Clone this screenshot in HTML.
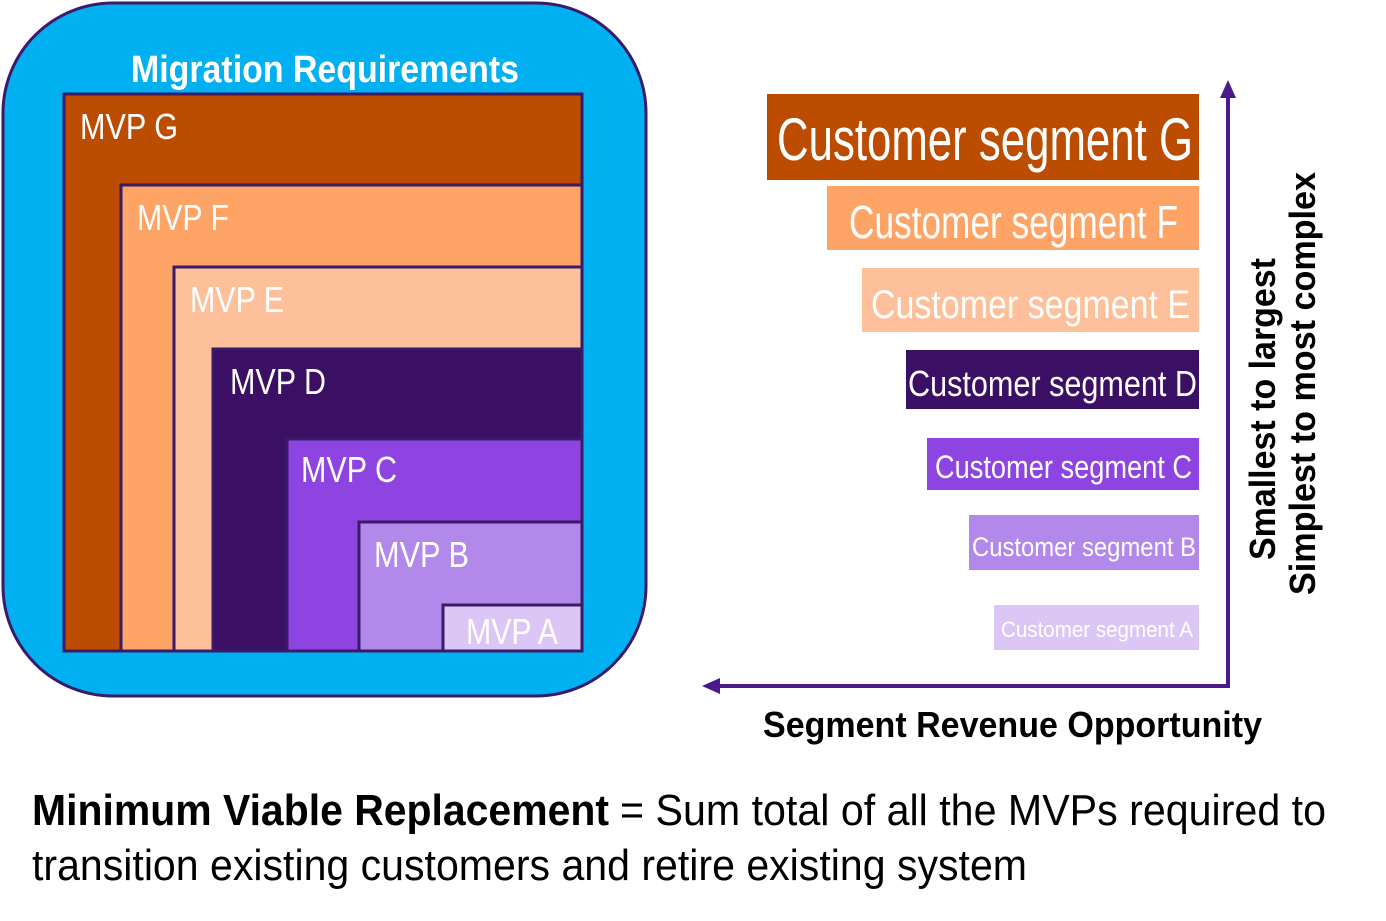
<!DOCTYPE html>
<html><head><meta charset="utf-8"><style>html,body{margin:0;padding:0;background:#fff}svg{display:block}</style></head>
<body>
<svg width="1386" height="921" viewBox="0 0 1386 921" xmlns="http://www.w3.org/2000/svg" font-family="Liberation Sans, Arial, sans-serif">
<rect x="3" y="3" width="643" height="693" rx="110" fill="#00b0f0" stroke="#3a1a6a" stroke-width="3"/>
<text x="131" y="82" font-size="38" font-weight="bold" fill="#fff" textLength="388" lengthAdjust="spacingAndGlyphs">Migration Requirements</text>
<g stroke="#3a1a6a" stroke-width="3">
<rect x="64" y="94" width="518" height="557" fill="#bc4c00"/>
<rect x="121" y="185" width="461" height="466" fill="#fda466"/>
<rect x="174" y="267" width="408" height="384" fill="#fdc09a"/>
<rect x="213" y="349" width="369" height="302" fill="#3b0f63"/>
<rect x="287" y="439" width="295" height="212" fill="#8e44e0"/>
<rect x="359" y="522" width="223" height="129" fill="#b388eb"/>
<rect x="443" y="605" width="139" height="46" fill="#dcc6f5"/>
</g>
<g fill="#fff" font-size="36">
<text x="80" y="139" textLength="98" lengthAdjust="spacingAndGlyphs">MVP G</text>
<text x="137" y="230" textLength="92" lengthAdjust="spacingAndGlyphs">MVP F</text>
<text x="190" y="312" textLength="94" lengthAdjust="spacingAndGlyphs">MVP E</text>
<text x="230" y="394" textLength="96" lengthAdjust="spacingAndGlyphs">MVP D</text>
<text x="301" y="482" textLength="96" lengthAdjust="spacingAndGlyphs">MVP C</text>
<text x="374" y="567" textLength="95" lengthAdjust="spacingAndGlyphs">MVP B</text>
<text x="466" y="644" textLength="92" lengthAdjust="spacingAndGlyphs">MVP A</text>
</g>
<rect x="767" y="94" width="432" height="86" fill="#bc4c00"/>
<rect x="827" y="186" width="372" height="64" fill="#fda466"/>
<rect x="862" y="268" width="337" height="64" fill="#fdc09a"/>
<rect x="906" y="350" width="293" height="59" fill="#3b0f63"/>
<rect x="927" y="438" width="272" height="52" fill="#8e44e0"/>
<rect x="969" y="515" width="230" height="55" fill="#b388eb"/>
<rect x="994" y="605" width="205" height="45" fill="#dcc6f5"/>
<g fill="#fff">
<text x="777" y="160" font-size="60" textLength="416" lengthAdjust="spacingAndGlyphs">Customer segment G</text>
<text x="849" y="238" font-size="46" textLength="329" lengthAdjust="spacingAndGlyphs">Customer segment F</text>
<text x="871" y="318" font-size="40" textLength="319" lengthAdjust="spacingAndGlyphs">Customer segment E</text>
<text x="908" y="396" font-size="36" textLength="289" lengthAdjust="spacingAndGlyphs">Customer segment D</text>
<text x="935" y="478" font-size="32" textLength="257" lengthAdjust="spacingAndGlyphs">Customer segment C</text>
<text x="972" y="556" font-size="27" textLength="224" lengthAdjust="spacingAndGlyphs">Customer segment B</text>
<text x="1001" y="637" font-size="22" textLength="192" lengthAdjust="spacingAndGlyphs">Customer segment A</text>
</g>
<g stroke="#4b1a8a" stroke-width="4" fill="none">
<line x1="1228" y1="688" x2="1228" y2="92"/>
<line x1="1230" y1="686" x2="716" y2="686"/>
</g>
<polygon points="1228,80 1220,98 1236,98" fill="#4b1a8a"/>
<polygon points="702,686 720,678 720,694" fill="#4b1a8a"/>
<g font-weight="bold" font-size="36" fill="#000">
<text transform="translate(1275,560) rotate(-90)" textLength="302" lengthAdjust="spacingAndGlyphs">Smallest to largest</text>
<text transform="translate(1315,595) rotate(-90)" textLength="423" lengthAdjust="spacingAndGlyphs">Simplest to most complex</text>
<text x="763" y="737" textLength="499" lengthAdjust="spacingAndGlyphs">Segment Revenue Opportunity</text>
</g>
<text x="32" y="825" font-size="44" font-weight="bold" textLength="577" lengthAdjust="spacingAndGlyphs">Minimum Viable Replacement</text>
<text x="620" y="825" font-size="44" textLength="706" lengthAdjust="spacingAndGlyphs">= Sum total of all the MVPs required to</text>
<text x="32" y="880" font-size="44" textLength="995" lengthAdjust="spacingAndGlyphs">transition existing customers and retire existing system</text>
</svg>
</body></html>
